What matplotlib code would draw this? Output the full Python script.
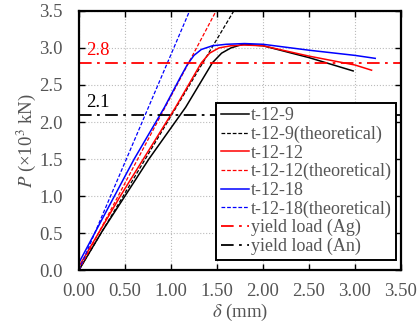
import matplotlib

matplotlib.use("Agg")
import matplotlib.pyplot as plt

plt.rcParams["font.family"] = ["Liberation Serif", "DejaVu Serif"]
plt.rcParams["mathtext.fontset"] = "stix"

GRAY = "#555555"

# measured load-displacement curves (delta in mm, P in 10^3 kN)
d_t9 = [0.0, 0.25, 0.50, 0.76, 1.16, 1.45, 1.55, 1.65, 1.78, 2.00, 2.50, 2.98]
p_t9 = [0.0, 0.52, 1.00, 1.50, 2.20, 2.80, 2.93, 3.00, 3.05, 3.03, 2.87, 2.69]

d_t12 = [0.0, 0.45, 0.70, 1.05, 1.33, 1.42, 1.52, 1.65, 1.80, 2.00, 2.50, 3.00, 3.18]
p_t12 = [0.05, 1.00, 1.50, 2.20, 2.80, 2.93, 3.00, 3.03, 3.04, 3.03, 2.89, 2.77, 2.70]

d_t18 = [0.0, 0.30, 0.60, 0.93, 1.10, 1.18, 1.25, 1.33, 1.45, 1.60, 1.80, 2.00, 2.50, 3.00, 3.22]
p_t18 = [0.10, 0.80, 1.50, 2.20, 2.60, 2.78, 2.90, 2.98, 3.03, 3.05, 3.06, 3.05, 2.97, 2.90, 2.86]

# theoretical elastic lines (end points)
d_t9_th = [0.0, 1.75]
p_t9_th = [0.0, 3.64]
d_t12_th = [0.0, 1.55]
p_t12_th = [0.0, 3.64]
d_t18_th = [0.0, 1.25]
p_t18_th = [0.0, 3.64]

yield_ag = 2.8
yield_an = 2.1

fig = plt.figure(figsize=(4.17, 3.23), dpi=100)
ax = fig.add_axes([0.1894, 0.164, 0.7722, 0.802])

ax.plot(d_t9, p_t9, color="black", lw=1.1, label="t-12-9")
ax.plot(d_t9_th, p_t9_th, color="black", lw=0.9, ls=(0, (3, 1.5)), label="t-12-9(theoretical)")
ax.plot(d_t12, p_t12, color="red", lw=1.1, label="t-12-12")
ax.plot(d_t12_th, p_t12_th, color="red", lw=0.9, ls=(0, (3, 1.5)), label="t-12-12(theoretical)")
ax.plot(d_t18, p_t18, color="blue", lw=1.1, label="t-12-18")
ax.plot(d_t18_th, p_t18_th, color="blue", lw=0.9, ls=(0, (3, 1.5)), label="t-12-18(theoretical)")
ax.axhline(yield_ag, color="red", lw=1.3, ls=(0, (7, 3, 1.5, 3)), label="yield load (Ag)")
ax.axhline(yield_an, color="black", lw=1.3, ls=(0, (7, 3, 1.5, 3)), label="yield load (An)")

ax.text(0.08, yield_ag + 0.05, "2.8", color="red", fontsize=13.5, va="bottom")
ax.text(0.08, yield_an + 0.05, "2.1", color="black", fontsize=13.5, va="bottom")

ax.set_xlim(0, 3.5)
ax.set_ylim(0, 3.5)
ax.set_xticks([0, 0.5, 1.0, 1.5, 2.0, 2.5, 3.0, 3.5])
ax.set_xticklabels([f"{v:.2f}" for v in ax.get_xticks()])
ax.set_yticks([0, 0.5, 1.0, 1.5, 2.0, 2.5, 3.0, 3.5])
ax.set_yticklabels([f"{v:.1f}" for v in ax.get_yticks()])
ax.tick_params(direction="in", length=4, width=1, labelsize=13.5, labelcolor=GRAY,
               top=True, right=True)
ax.tick_params(axis="x", pad=9.5)
ax.tick_params(axis="y", pad=11.5)
for s in ax.spines.values():
    s.set_linewidth(1.6)
ax.grid(color="#bbbbbb", ls=":", lw=0.8)

ax.set_xlabel(r"$\delta$ (mm)", fontsize=13.5, color=GRAY, labelpad=1)
ax.set_ylabel(r"$P$ (×10$^3$ kN)", fontsize=13.5, color=GRAY, labelpad=1)

leg = ax.legend(loc="lower right", bbox_to_anchor=(0.985, 0.04), fontsize=13,
                frameon=True, fancybox=False, edgecolor="black", framealpha=1,
                handlelength=1.55, handletextpad=0.1, labelspacing=0.08,
                borderpad=0.25, borderaxespad=0)
leg.get_frame().set_linewidth(1.4)
for t in leg.get_texts():
    t.set_color(GRAY)

fig.savefig("out.png", dpi=100)
